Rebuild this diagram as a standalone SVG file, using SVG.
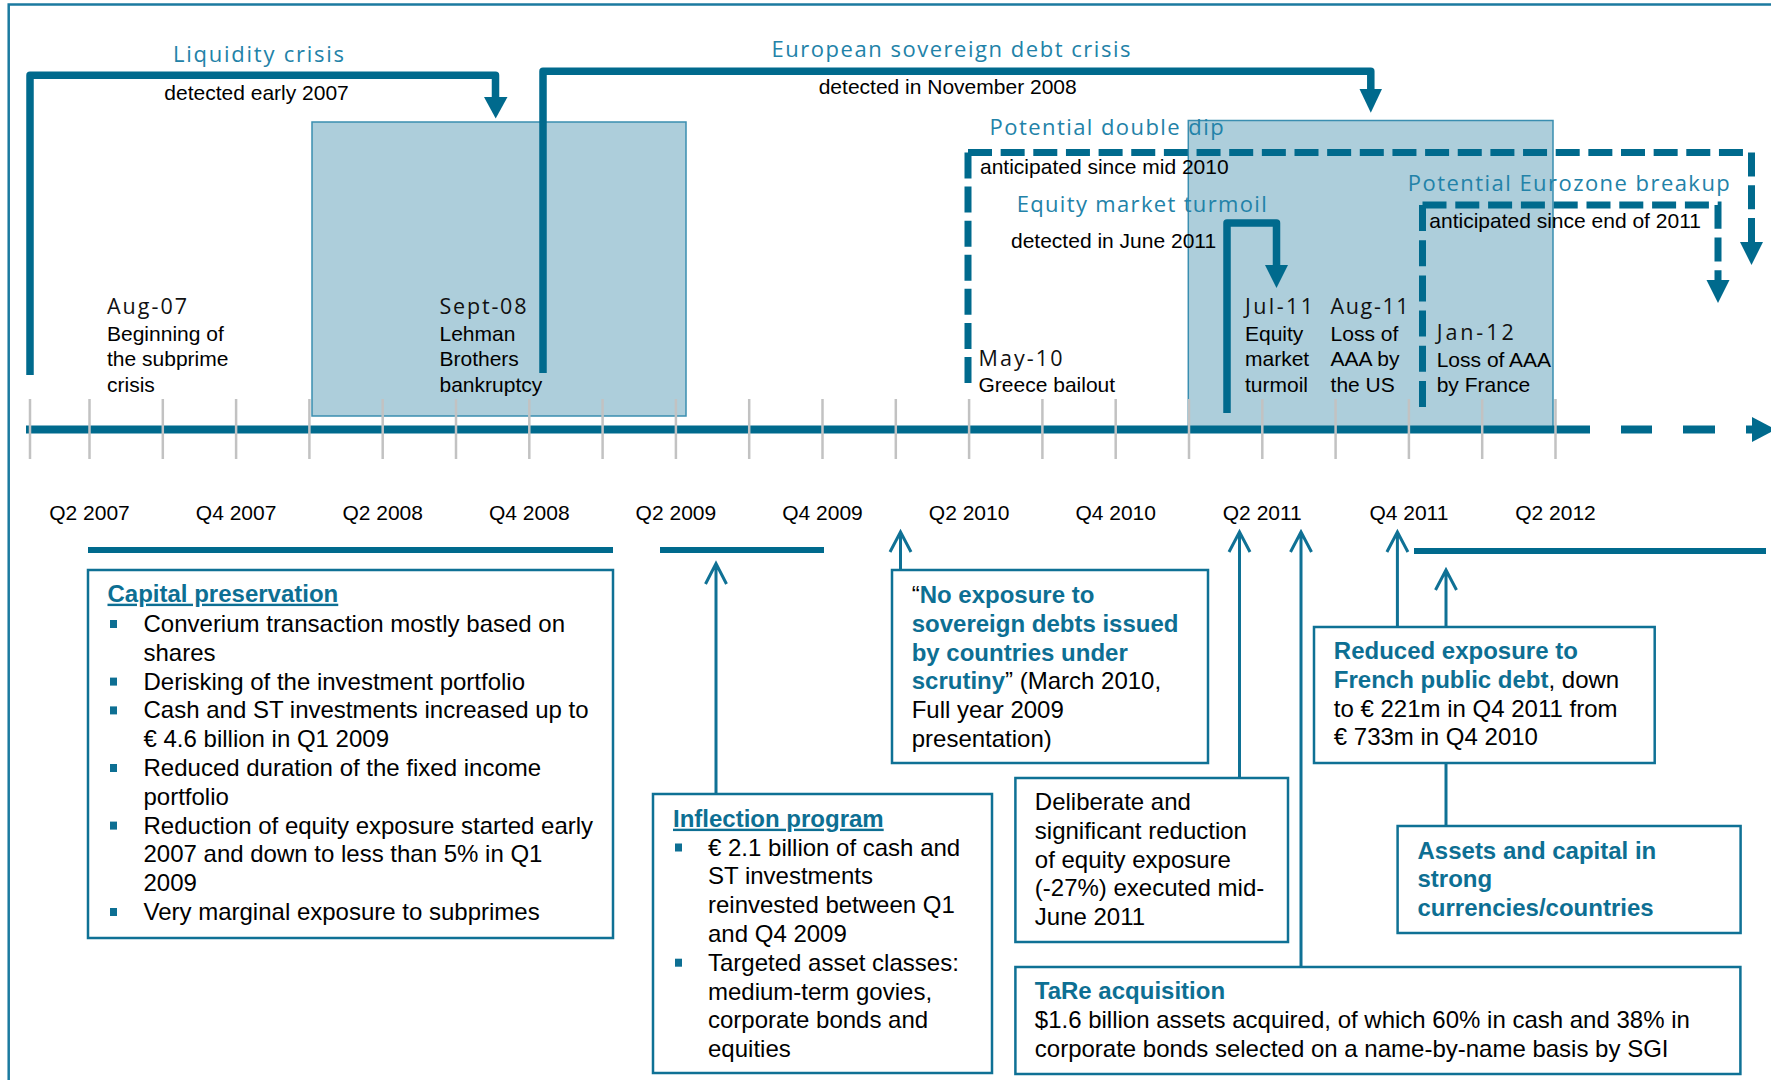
<svg xmlns="http://www.w3.org/2000/svg" width="1771" height="1080" viewBox="0 0 1771 1080">
<style>
.lbl{font-family:"Open Sans","DejaVu Sans",sans-serif;font-size:22px;fill:#2282a8}
.dt{font-family:"Open Sans","DejaVu Sans",sans-serif;font-size:21.5px;fill:#111}
.t{font-family:"Liberation Sans",Arial,sans-serif;font-size:21px;fill:#000}
.tb{font-family:"Liberation Sans",Arial,sans-serif;font-size:24px;fill:#000}
.b{font-weight:bold;fill:#0d6f93}
.u{text-decoration:underline}
.q{text-anchor:middle}
.hl{fill:#adcedb;stroke:#3a8eb0;stroke-width:1.5}
.box{fill:#fff;stroke:#0f7195;stroke-width:2.5}
.br{fill:none;stroke:#006a8d;stroke-width:7.5;stroke-linejoin:round}
.dd{fill:none;stroke:#006a8d;stroke-width:7;stroke-dasharray:24 8.65}
.dz{fill:none;stroke:#006a8d;stroke-width:7;stroke-dasharray:24 8.8}
.head{fill:#006a8d}
.tick{stroke:#c2c2c2;stroke-width:2.5}
.bar{stroke:#006a8d;stroke-width:6}
.ar{fill:none;stroke:#0f7195;stroke-width:3}
.bul{fill:#0d6f93}
</style>

<!-- frame -->
<path d="M8.7,1080 V4.5 H1771" fill="none" stroke="#1b7aa0" stroke-width="2.5"/>

<!-- highlight periods -->
<g id="period-2008">
<rect class="hl" x="312" y="122" width="374" height="294"/>
</g>
<g id="period-2011">
<rect class="hl" x="1188.3" y="120.5" width="364.7" height="307"/>
</g>

<!-- timeline -->
<g id="timeline">
<line x1="26" y1="429.5" x2="1590" y2="429.5" stroke="#006a8d" stroke-width="8"/>
<line x1="1621" y1="429.5" x2="1652" y2="429.5" stroke="#006a8d" stroke-width="8"/>
<line x1="1683" y1="429.5" x2="1715" y2="429.5" stroke="#006a8d" stroke-width="8"/>
<line x1="1746" y1="429.5" x2="1753" y2="429.5" stroke="#006a8d" stroke-width="8"/>
<polygon class="head" points="1752,417 1776,429.5 1752,442"/>
<g class="tick">
<line x1="30" y1="399" x2="30" y2="459"/>
<line x1="89.5" y1="399" x2="89.5" y2="459"/>
<line x1="162.8" y1="399" x2="162.8" y2="459"/>
<line x1="236.1" y1="399" x2="236.1" y2="459"/>
<line x1="309.4" y1="399" x2="309.4" y2="459"/>
<line x1="382.7" y1="399" x2="382.7" y2="459"/>
<line x1="456" y1="399" x2="456" y2="459"/>
<line x1="529.3" y1="399" x2="529.3" y2="459"/>
<line x1="602.6" y1="399" x2="602.6" y2="459"/>
<line x1="675.9" y1="399" x2="675.9" y2="459"/>
<line x1="749.2" y1="399" x2="749.2" y2="459"/>
<line x1="822.5" y1="399" x2="822.5" y2="459"/>
<line x1="895.8" y1="399" x2="895.8" y2="459"/>
<line x1="969.1" y1="399" x2="969.1" y2="459"/>
<line x1="1042.4" y1="399" x2="1042.4" y2="459"/>
<line x1="1115.7" y1="399" x2="1115.7" y2="459"/>
<line x1="1189" y1="399" x2="1189" y2="459"/>
<line x1="1262.3" y1="399" x2="1262.3" y2="459"/>
<line x1="1335.6" y1="399" x2="1335.6" y2="459"/>
<line x1="1408.9" y1="399" x2="1408.9" y2="459"/>
<line x1="1482.2" y1="399" x2="1482.2" y2="459"/>
<line x1="1555.5" y1="399" x2="1555.5" y2="459"/>
</g>
<g class="t q">
<text x="89.5" y="520">Q2 2007</text>
<text x="236.1" y="520">Q4 2007</text>
<text x="382.7" y="520">Q2 2008</text>
<text x="529.3" y="520">Q4 2008</text>
<text x="675.9" y="520">Q2 2009</text>
<text x="822.5" y="520">Q4 2009</text>
<text x="969.1" y="520">Q2 2010</text>
<text x="1115.7" y="520">Q4 2010</text>
<text x="1262.3" y="520">Q2 2011</text>
<text x="1408.9" y="520">Q4 2011</text>
<text x="1555.5" y="520">Q2 2012</text>
</g>
</g>

<!-- crisis brackets -->
<g id="liquidity-crisis">
<path class="br" d="M30,375 V75.3 H495.5 V98"/>
<polygon class="head" points="484,97 507.5,97 495.7,118.5"/>
<text class="lbl" x="173" y="61.7" textLength="171" lengthAdjust="spacing">Liquidity crisis</text>
<text class="t" x="164.3" y="100">detected early 2007</text>
</g>
<g id="european-debt-crisis">
<path class="br" d="M543,373 V71.3 H1370.8 V90"/>
<polygon class="head" points="1359.5,89 1382,89 1370.8,112.7"/>
<text class="lbl" x="771.5" y="56.5" textLength="359" lengthAdjust="spacing">European sovereign debt crisis</text>
<text class="t" x="818.7" y="94">detected in November 2008</text>
</g>
<g id="double-dip">
<path class="dd" d="M968,152.5 V383" style="stroke-dasharray:26 8.08"/>
<path class="dd" d="M968,152.5 H1751.5 V243"/>
<polygon class="head" points="1740,242 1763,242 1751.5,265"/>
<text class="lbl" x="989.6" y="135" textLength="234" lengthAdjust="spacing">Potential double dip</text>
<text class="t" x="980" y="174.3">anticipated since mid 2010</text>
</g>
<g id="equity-turmoil">
<path class="br" d="M1227,413 V223 H1276.5 V266"/>
<polygon class="head" points="1265,265 1288,265 1276.5,288"/>
<text class="lbl" x="1016.7" y="211.5" textLength="250" lengthAdjust="spacing">Equity market turmoil</text>
<text class="t" x="1011" y="248.3">detected in June 2011</text>
</g>
<g id="eurozone-breakup">
<path class="dz" d="M1422.5,205 V407" style="stroke-dasharray:26 9.2"/>
<path class="dz" d="M1422.5,205 H1718 V281"/>
<polygon class="head" points="1706.5,280 1729.5,280 1718,303"/>
<text class="lbl" x="1407.8" y="190.5" textLength="322" lengthAdjust="spacing">Potential Eurozone breakup</text>
<text class="t" x="1429.3" y="228.3">anticipated since end of 2011</text>
</g>

<!-- events -->
<g id="ev-aug07">
<text class="dt" x="107" y="313.5" textLength="80" lengthAdjust="spacing">Aug-07</text>
<text class="t" x="107" y="340.7">Beginning of</text>
<text class="t" x="107" y="366">the subprime</text>
<text class="t" x="107" y="391.5">crisis</text>
</g>
<g id="ev-sept08">
<text class="dt" x="439.5" y="313.5" textLength="87" lengthAdjust="spacing">Sept-08</text>
<text class="t" x="439.5" y="340.7">Lehman</text>
<text class="t" x="439.5" y="366">Brothers</text>
<text class="t" x="439.5" y="391.5">bankruptcy</text>
</g>
<g id="ev-may10">
<text class="dt" x="978.5" y="366" textLength="84" lengthAdjust="spacing">May-10</text>
<text class="t" x="978.5" y="391.5">Greece bailout</text>
</g>
<g id="ev-jul11">
<text class="dt" x="1245" y="313.5" textLength="68" lengthAdjust="spacing">Jul-11</text>
<text class="t" x="1245" y="340.7">Equity</text>
<text class="t" x="1245" y="366">market</text>
<text class="t" x="1245" y="391.5">turmoil</text>
</g>
<g id="ev-aug11">
<text class="dt" x="1330.6" y="313.5" textLength="78" lengthAdjust="spacing">Aug-11</text>
<text class="t" x="1330.6" y="340.7">Loss of</text>
<text class="t" x="1330.6" y="366">AAA by</text>
<text class="t" x="1330.6" y="391.5">the US</text>
</g>
<g id="ev-jan12">
<text class="dt" x="1436.7" y="339.5" textLength="77" lengthAdjust="spacing">Jan-12</text>
<text class="t" x="1436.7" y="366.5">Loss of AAA</text>
<text class="t" x="1436.7" y="391.5">by France</text>
</g>

<!-- period bars -->
<g id="period-bars">
<line class="bar" x1="88" y1="550" x2="613" y2="550"/>
<line class="bar" x1="660" y1="550" x2="824" y2="550"/>
<line class="bar" x1="1414" y1="551" x2="1766" y2="551"/>
</g>

<!-- connectors -->
<g id="connectors">
<path class="ar" d="M716,794 V564 M705.5,584 L716,563.5 L726.5,584"/>
<path class="ar" d="M900.5,570 V533 M890,552 L900.5,532 L911,552"/>
<path class="ar" d="M1239.5,778 V533 M1229,552 L1239.5,532 L1250,552"/>
<path class="ar" d="M1301,967 V533 M1290.5,552 L1301,532 L1311.5,552"/>
<path class="ar" d="M1397.4,627 V533 M1386.9,552 L1397.4,532 L1407.9,552"/>
<path class="ar" d="M1446,627 V571 M1435.5,590 L1446,570 L1456.5,590"/>
<path class="ar" d="M1446,763 V826"/>
</g>

<!-- boxes -->
<g id="capital-preservation">
<rect class="box" x="88" y="570" width="525" height="368"/>
<text class="tb b u" x="107.5" y="601.7">Capital preservation</text>
<rect class="bul" x="110" y="620" width="7" height="8"/>
<rect class="bul" x="110" y="677.6" width="7" height="8"/>
<rect class="bul" x="110" y="706.4" width="7" height="8"/>
<rect class="bul" x="110" y="764" width="7" height="8"/>
<rect class="bul" x="110" y="821.6" width="7" height="8"/>
<rect class="bul" x="110" y="908" width="7" height="8"/>
<g class="tb">
<text x="143.5" y="632">Converium transaction mostly based on</text>
<text x="143.5" y="660.8">shares</text>
<text x="143.5" y="689.6">Derisking of the investment portfolio</text>
<text x="143.5" y="718.4">Cash and ST investments increased up to</text>
<text x="143.5" y="747.2">€ 4.6 billion in Q1 2009</text>
<text x="143.5" y="776">Reduced duration of the fixed income</text>
<text x="143.5" y="804.8">portfolio</text>
<text x="143.5" y="833.6">Reduction of equity exposure started early</text>
<text x="143.5" y="862.4">2007 and down to less than 5% in Q1</text>
<text x="143.5" y="891.2">2009</text>
<text x="143.5" y="920">Very marginal exposure to subprimes</text>
</g>
</g>

<g id="inflection-program">
<rect class="box" x="653" y="794" width="339" height="279"/>
<text class="tb b u" x="673" y="826.7">Inflection program</text>
<rect class="bul" x="675" y="843.5" width="7" height="8"/>
<rect class="bul" x="675" y="958.7" width="7" height="8"/>
<g class="tb">
<text x="708" y="855.5">€ 2.1 billion of cash and</text>
<text x="708" y="884.3">ST investments</text>
<text x="708" y="913.1">reinvested between Q1</text>
<text x="708" y="941.9">and Q4 2009</text>
<text x="708" y="970.7">Targeted asset classes:</text>
<text x="708" y="999.5">medium-term govies,</text>
<text x="708" y="1028.3">corporate bonds and</text>
<text x="708" y="1057.1">equities</text>
</g>
</g>

<g id="no-exposure">
<rect class="box" x="892" y="570" width="316" height="193"/>
<g class="tb">
<text x="911.7" y="603">“<tspan class="b">No exposure to</tspan></text>
<text x="911.7" y="631.8" class="b">sovereign debts issued</text>
<text x="911.7" y="660.6" class="b">by countries under</text>
<text x="911.7" y="689.4"><tspan class="b">scrutiny</tspan>” (March 2010,</text>
<text x="911.7" y="718.2">Full year 2009</text>
<text x="911.7" y="747">presentation)</text>
</g>
</g>

<g id="equity-reduction">
<rect class="box" x="1015.4" y="778" width="272.6" height="164"/>
<g class="tb">
<text x="1034.8" y="810">Deliberate and</text>
<text x="1034.8" y="838.8">significant reduction</text>
<text x="1034.8" y="867.6">of equity exposure</text>
<text x="1034.8" y="896.4">(-27%) executed mid-</text>
<text x="1034.8" y="925.2">June 2011</text>
</g>
</g>

<g id="tare-acquisition">
<rect class="box" x="1015.4" y="967" width="725" height="107"/>
<g class="tb">
<text x="1034.8" y="999" class="b">TaRe acquisition</text>
<text x="1034.8" y="1027.8">$1.6 billion assets acquired, of which 60% in cash and 38% in</text>
<text x="1034.8" y="1056.6">corporate bonds selected on a name-by-name basis by SGI</text>
</g>
</g>

<g id="french-debt">
<rect class="box" x="1314" y="627" width="340.7" height="136"/>
<g class="tb">
<text x="1333.8" y="659" class="b">Reduced exposure to</text>
<text x="1333.8" y="687.8"><tspan class="b">French public debt</tspan>, down</text>
<text x="1333.8" y="716.6">to € 221m in Q4 2011 from</text>
<text x="1333.8" y="745.4">€ 733m in Q4 2010</text>
</g>
</g>

<g id="strong-currencies">
<rect class="box" x="1397.6" y="826" width="343" height="107"/>
<g class="tb b">
<text x="1417.5" y="858.5">Assets and capital in</text>
<text x="1417.5" y="887.3">strong</text>
<text x="1417.5" y="916.1">currencies/countries</text>
</g>
</g>
</svg>
